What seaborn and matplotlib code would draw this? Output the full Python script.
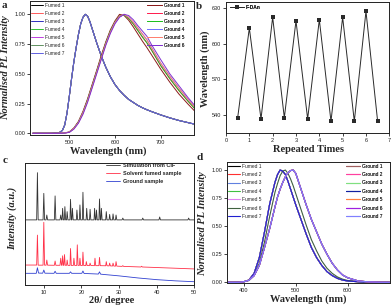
#PL / XRD figure (a-d)
import numpy as np
import pandas as pd
import seaborn as sns
import matplotlib.pyplot as plt

sns.set_style("ticks")
plt.rcParams['font.family'] = ['Liberation Sans', 'DejaVu Sans']

#a) PL spectra, fumed vs ground (6 grindings)
wl_a = [420, 460, 475, 480, 485, 490, 495, 500, 505, 510, 515, 520, 525, 530, 535, 540, 545, 550,
        560, 570, 580, 590, 600, 610, 620, 630, 640, 650, 660, 670, 680, 700, 720, 740, 760, 780]
fumed_a = [0, 0, 0.003, 0.01, 0.025, 0.07, 0.17, 0.31, 0.46, 0.60, 0.72, 0.83, 0.92, 0.975, 1.0, 0.985, 0.94, 0.88,
           0.76, 0.65, 0.555, 0.475, 0.41, 0.36, 0.32, 0.285, 0.26, 0.235, 0.215, 0.198, 0.183, 0.155, 0.13, 0.108, 0.09, 0.072]
wl_ga = [420, 470, 480, 490, 500, 510, 520, 530, 540, 550, 560, 570, 580, 590, 600, 610,
         620, 630, 640, 650, 660, 670, 680, 700, 720, 740, 760, 780]
ground1_a = [0, 0, 0.001, 0.004, 0.012, 0.045, 0.10, 0.185, 0.29, 0.41, 0.53, 0.655, 0.77, 0.87, 0.945, 1.0,
             0.99, 0.95, 0.895, 0.835, 0.775, 0.72, 0.66, 0.54, 0.43, 0.33, 0.245, 0.165]
ground23_a = [0, 0, 0.001, 0.003, 0.01, 0.042, 0.095, 0.175, 0.28, 0.40, 0.52, 0.64, 0.76, 0.86, 0.935, 0.985,
              0.995, 0.965, 0.92, 0.865, 0.81, 0.76, 0.70, 0.57, 0.46, 0.36, 0.27, 0.185]
ground45_a = [0, 0, 0.001, 0.003, 0.01, 0.04, 0.09, 0.17, 0.27, 0.39, 0.51, 0.63, 0.75, 0.85, 0.93, 0.98,
              1.0, 0.975, 0.935, 0.885, 0.835, 0.785, 0.72, 0.59, 0.48, 0.38, 0.285, 0.2]
ground6_a = [0, 0, 0.0, 0.002, 0.008, 0.035, 0.085, 0.16, 0.26, 0.38, 0.50, 0.62, 0.74, 0.84, 0.92, 0.975,
             1.0, 0.99, 0.955, 0.905, 0.86, 0.815, 0.745, 0.62, 0.50, 0.40, 0.30, 0.21]

#b) emission maximum over repeated fuming/grinding
rep_x = [0.5, 1, 1.5, 2, 2.5, 3, 3.5, 4, 4.5, 5, 5.5, 6, 6.5]
rep_wl = [538, 613, 537, 622, 538, 619, 537, 620, 535, 622, 535, 627, 535]

#c) PXRD patterns
sim_x = [5, 8.1, 8.3, 8.5, 9.8, 10.0, 10.2, 10.6, 10.8, 11.0, 12.8, 13.0, 13.2, 14.3, 14.5, 14.7,
         14.85, 15.0, 15.2, 15.45, 15.6, 15.8, 16.05, 16.2, 16.4, 16.95, 17.1, 17.3, 17.45, 17.6, 17.8,
         18.65, 18.8, 19.0, 19.45, 19.6, 19.8, 20.25, 20.4, 20.6, 21.25, 21.4, 21.6, 22.15, 22.3, 22.5,
         23.35, 23.5, 23.7, 23.85, 24.0, 24.2, 24.65, 24.8, 25.0, 25.15, 25.3, 25.5, 26.45, 26.6, 26.8,
         27.35, 27.5, 27.7, 28.25, 28.4, 28.6, 29.05, 29.2, 29.4, 30.8, 31.0, 31.2, 36.1, 36.3, 36.5,
         40.6, 40.8, 41.0, 48.3, 48.5, 48.7, 50]
sim_y = [53.5, 53.5, 92.3, 53.5, 53.5, 75.3, 53.5, 53.5, 57.5, 53.5, 53.5, 73.2, 53.5, 53.5, 57.5, 53.5,
         53.5, 63.0, 53.5, 53.5, 64.4, 53.5, 53.5, 60.3, 53.5, 53.5, 70.4, 53.5, 53.5, 63.0, 53.5,
         53.5, 61.6, 53.5, 53.5, 65.8, 53.5, 53.5, 76.2, 53.5, 53.5, 63.0, 53.5, 53.5, 62.2, 53.5,
         53.5, 63.0, 53.5, 53.5, 61.6, 53.5, 53.5, 70.7, 53.5, 53.5, 63.0, 53.5, 53.5, 60.3, 53.5,
         53.5, 58.0, 53.5, 53.5, 58.4, 53.5, 53.5, 57.5, 53.5, 53.5, 55.0, 53.5, 53.5, 55.0, 53.5,
         53.5, 55.9, 53.5, 53.5, 55.0, 53.5, 53.5]
fum_x = [5, 8.1, 8.3, 8.5, 9.8, 10.0, 10.2, 10.6, 10.8, 11.0, 12.8, 13.0, 13.2, 14.3, 14.5, 14.7,
         14.85, 15.0, 15.2, 15.35, 15.5, 15.7, 16.05, 16.2, 16.4, 16.95, 17.1, 17.3, 17.85, 18.0, 18.2,
         18.75, 18.9, 19.1, 19.45, 19.6, 19.8, 20.25, 20.4, 20.6, 21.15, 21.3, 21.5, 22.15, 22.3, 22.5,
         23.45, 23.6, 23.8, 24.65, 24.8, 25.0, 26.45, 26.6, 26.8, 27.35, 27.5, 27.7, 28.25, 28.4, 28.6,
         29.05, 29.2, 29.4, 30.8, 31.0, 31.2, 35.8, 36.0, 36.2, 50]
fum_y = [16.4, 16.4, 41.0, 16.3, 16.3, 51.5, 16.3, 16.3, 20.5, 16.3, 16.2, 19.7, 16.2, 16.2, 22.0, 16.2,
         16.2, 24.0, 16.2, 16.2, 25.0, 16.2, 16.2, 20.5, 16.1, 16.1, 30.0, 16.1, 16.1, 22.0, 16.1,
         16.1, 33.0, 16.1, 16.1, 22.0, 16.0, 16.0, 27.0, 16.0, 16.0, 19.2, 16.0, 16.0, 18.0, 16.0,
         15.9, 22.0, 15.9, 15.9, 22.7, 15.9, 15.8, 19.2, 15.8, 15.7, 18.0, 15.7, 15.6, 18.0, 15.6,
         15.5, 19.2, 15.5, 15.3, 15.9, 15.3, 14.8, 15.4, 14.8, 13.2]
grd_x = [5, 8.0, 8.3, 8.6, 9.7, 10.0, 10.3, 12.7, 13.0, 13.3, 16.8, 17.1, 17.4, 20.1, 20.4, 20.7,
         24.5, 24.8, 25.1, 30, 35, 40, 45, 50]
grd_y = [9.6, 9.6, 14.2, 9.8, 9.7, 12.3, 9.7, 9.6, 11.3, 9.6, 9.6, 10.8, 9.6, 9.6, 11.5, 9.5,
         9.0, 10.8, 8.9, 7.5, 5.8, 4.4, 3.4, 2.7]

#d) PL spectra, fumed vs ground (7 grindings)
wl_d = [370, 390, 400, 410, 420, 430, 440, 450, 460, 465, 470, 475, 480, 485, 490, 495, 500,
        510, 520, 530, 540, 550, 560, 570, 580, 590, 600, 620, 640, 660, 680]
fumed_d = [0, 0, 0.005, 0.02, 0.08, 0.22, 0.45, 0.70, 0.89, 0.96, 1.0, 0.99, 0.96, 0.90, 0.83, 0.76, 0.69,
           0.56, 0.43, 0.31, 0.22, 0.15, 0.095, 0.06, 0.035, 0.02, 0.012, 0.005, 0.002, 0, 0]
fumed6_d = [0, 0, 0.004, 0.016, 0.06, 0.17, 0.36, 0.59, 0.80, 0.88, 0.95, 0.99, 1.0, 0.97, 0.92, 0.86, 0.79,
            0.65, 0.51, 0.38, 0.28, 0.19, 0.125, 0.08, 0.048, 0.028, 0.016, 0.006, 0.002, 0, 0]
ground_d = [0, 0, 0.005, 0.018, 0.06, 0.15, 0.31, 0.48, 0.67, 0.76, 0.83, 0.89, 0.94, 0.975, 0.995, 1.0, 0.97,
            0.83, 0.69, 0.56, 0.45, 0.34, 0.25, 0.17, 0.11, 0.065, 0.04, 0.012, 0.004, 0.001, 0]

fumed_cols_a = ['#000000', '#ff5a5a', '#3030c0', '#30c030', '#c040e0', '#609060', '#6060e0']
ground_cols_a = ['#8b1a1a', '#ff2050', '#20c020', '#7070ff', '#ff8070', '#8030d0']
fumed_cols_d = ['#000000', '#ff3030', '#6080e0', '#40c040', '#e080f0', '#406040', '#2020d0']
ground_cols_d = ['#a06060', '#ff40a0', '#80e080', '#1020a0', '#ff8040', '#a020e0', '#8080ff']

serif = ['Liberation Serif', 'DejaVu Serif']

fig = plt.figure(figsize=(3.92, 3.07), dpi=100)
ax_a = fig.add_axes([30/392, 1-135/307, 164/392, 134/307])
ax_b = fig.add_axes([226/392, 1-133.3/307, 163.3/392, 131.6/307])
ax_c = fig.add_axes([25/392, 1-285/307, 169.3/392, 121.7/307])
ax_d = fig.add_axes([227.3/392, 1-283/307, 162.7/392, 121.3/307])

for ax in [ax_a, ax_b, ax_c, ax_d]:
    for s in ax.spines.values():
        s.set_linewidth(0.7)
        s.set_color('#222222')
    ax.tick_params(labelsize=4, length=2, width=0.6, pad=1.5, colors='#222222')

def leg(ax, handles, labels, x, y, hl, spacing):
    l = ax.legend(handles, labels, loc='upper left', bbox_to_anchor=(x, y), frameon=False,
                  fontsize=3.5, borderpad=0, borderaxespad=0, handlelength=hl,
                  handletextpad=0.4, labelspacing=spacing)
    ax.add_artist(l)
    return l

#--- a
fl, gl = [], []
for i, c in enumerate(fumed_cols_a):
    sns.lineplot(x=wl_a, y=fumed_a, color=c, lw=0.7, ax=ax_a)
    fl.append(ax_a.lines[-1])
ground_a = [ground1_a, ground23_a, ground23_a, ground45_a, ground45_a, ground6_a]
for g, c in zip(ground_a, ground_cols_a):
    sns.lineplot(x=wl_ga, y=g, color=c, lw=0.7, ax=ax_a)
    gl.append(ax_a.lines[-1])
ax_a.set_xlim(414, 773)
ax_a.set_ylim(-0.014, 1.112)
ax_a.set_xticks([500, 600, 700])
ax_a.set_yticks([0, 0.25, 0.5, 0.75, 1.0])
ax_a.set_yticklabels(['0.00', '0.25', '0.50', '0.75', '1.00'])
leg(ax_a, fl, ['Fumed %d' % (i + 1) for i in range(7)], 0.005, 0.985, 2.5, 0.6)
leg(ax_a, gl, ['Ground %d' % (i + 1) for i in range(6)], 0.713, 0.985, 3.1, 0.6)
ax_a.set_xlabel('Wavelength (nm)', family=serif, weight='bold', fontsize=7.5)
ax_a.set_ylabel('Normalised PL Intensity', family=serif, weight='bold', style='italic', fontsize=7.5)
ax_a.xaxis.set_label_coords(0.48, -0.088)
ax_a.yaxis.set_label_coords(-0.119, 0.504)

#--- b
sns.lineplot(x=rep_x, y=rep_wl, color='#2a2a2a', lw=0.7, marker='s', markersize=2.3,
             markeredgewidth=0, ax=ax_b)
ax_b.set_xlim(0, 7)
ax_b.set_ylim(525, 635)
ax_b.set_xticks(range(8))
ax_b.set_yticks([540, 570, 600, 630])
lb = leg(ax_b, [ax_b.lines[-1]], ['F-DAn'], 0.025, 0.975, 2.8, 0.5)
lb.get_texts()[0].set_weight('bold')
ax_b.set_xlabel('Repeated Times', family=serif, weight='bold', fontsize=7.5)
ax_b.set_ylabel('Wavelength (nm)', family=serif, weight='bold', fontsize=7.5)
ax_b.xaxis.set_label_coords(0.505, -0.086)
ax_b.yaxis.set_label_coords(-0.098, 0.489)

#--- c
sns.lineplot(x=sim_x, y=sim_y, color='#333333', lw=0.6, ax=ax_c, label='Simulation from CIF')
sns.lineplot(x=fum_x, y=fum_y, color='#ff3048', lw=0.6, ax=ax_c, label='Solvent fumed sample')
sns.lineplot(x=grd_x, y=grd_y, color='#3040d0', lw=0.6, ax=ax_c, label='Ground sample')
ax_c.set_xlim(5, 50)
ax_c.set_ylim(0, 100)
ax_c.set_yticks([])
ax_c.set_xticks([10, 20, 30, 40, 50])
lc = ax_c.legend(loc='upper left', bbox_to_anchor=(0.478, 1.0), frameon=False, fontsize=4,
                 borderpad=0, borderaxespad=0, handlelength=2.5, handletextpad=0.55, labelspacing=0.55)
for t in lc.get_texts():
    t.set_weight('bold')
ax_c.set_xlabel('2θ/ degree', family=serif, weight='bold', fontsize=7.5)
ax_c.set_ylabel('Intensity (a.u.)', family=serif, weight='bold', style='italic', fontsize=7.5)
ax_c.xaxis.set_label_coords(0.512, -0.088)
ax_c.yaxis.set_label_coords(-0.049, 0.55)

#--- d
fl, gl = [], []
for i, c in enumerate(fumed_cols_d):
    y = fumed6_d if i == 5 else fumed_d
    sns.lineplot(x=wl_d, y=y, color=c, lw=0.8, ax=ax_d)
    fl.append(ax_d.lines[-1])
for c in ground_cols_d:
    sns.lineplot(x=wl_d, y=ground_d, color=c, lw=0.8, ax=ax_d)
    gl.append(ax_d.lines[-1])
ax_d.set_xlim(368.5, 681)
ax_d.set_ylim(-0.006, 1.074)
ax_d.set_xticks([400, 500, 600])
ax_d.set_yticks([0, 0.25, 0.5, 0.75, 1.0])
ax_d.set_yticklabels(['0.00', '0.25', '0.50', '0.75', '1.00'])
leg(ax_d, fl, ['Fumed %d' % (i + 1) for i in range(7)], 0.004, 0.985, 2.5, 0.7)
leg(ax_d, gl, ['Ground %d' % (i + 1) for i in range(7)], 0.73, 0.985, 2.8, 0.7)
ax_d.set_xlabel('Wavelength (nm)', family=serif, weight='bold', fontsize=7.5)
ax_d.set_ylabel('Normalised PL Intensity', family=serif, weight='bold', style='italic', fontsize=7.5)
ax_d.xaxis.set_label_coords(0.498, -0.097)
ax_d.yaxis.set_label_coords(-0.125, 0.486)

#panel letters
for s, x, y in [('a', 1.5, 1), ('b', 196, 2), ('c', 2.5, 156), ('d', 196.5, 153)]:
    fig.text(x/392, 1 - y/307, s, family=serif, weight='bold', fontsize=8, ha='left', va='top')

plt.savefig('out.png', dpi=100)
